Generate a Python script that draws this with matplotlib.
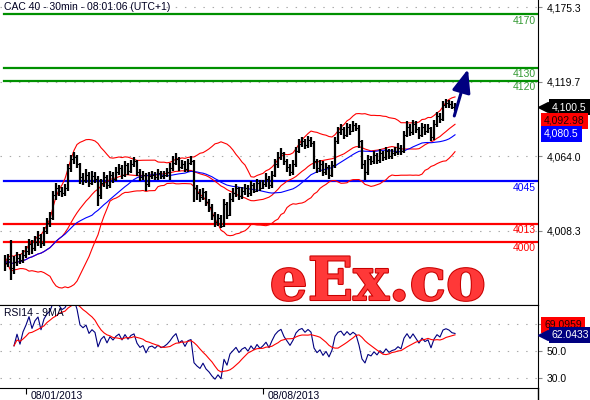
import numpy as np
import pandas as pd
import matplotlib
matplotlib.use('Agg')
import matplotlib.pyplot as plt
from matplotlib import patheffects
from matplotlib.lines import Line2D

plt.rcParams['font.family'] = ['Liberation Sans', 'DejaVu Sans']

# CAC 40, 30 min bars
closes = [3984, 3987, 3980, 3985, 3988, 3986, 3990, 3993, 3998, 3995,
          4000, 4003, 3999, 4008, 4014, 4018, 4035, 4040, 4038, 4036,
          4040, 4055, 4062, 4063, 4058, 4048, 4046, 4050, 4044, 4049,
          4047, 4035, 4044, 4048, 4042, 4050, 4047, 4052, 4055, 4050,
          4057, 4053, 4058, 4060, 4052, 4048, 4050, 4043, 4049, 4050,
          4048, 4051, 4049, 4050, 4052, 4055, 4059, 4062, 4056, 4058,
          4054, 4059, 4060, 4040, 4036, 4033, 4037, 4030, 4026, 4020,
          4015, 4018, 4012, 4028, 4020, 4032, 4036, 4040, 4034, 4038,
          4040, 4036, 4042, 4038, 4044, 4040, 4043, 4047, 4042, 4050,
          4058, 4063, 4066, 4060, 4056, 4052, 4058, 4068, 4073, 4075,
          4072, 4076, 4074, 4060, 4055, 4058, 4052, 4056, 4050, 4057,
          4075, 4082, 4084, 4080, 4086, 4083, 4087, 4085, 4075, 4058,
          4052, 4062, 4060, 4065, 4061, 4066, 4063, 4068, 4064, 4066,
          4067, 4070, 4068, 4080, 4086, 4082, 4088, 4084, 4080, 4086,
          4083, 4085, 4078, 4088, 4094, 4092, 4102, 4104, 4103, 4101,
          4100.5]
highs = [3990, 3991, 4001, 3989, 3992, 3991, 3994, 3997, 4002, 4001,
         4004, 4008, 4006, 4011, 4018, 4022, 4038, 4044, 4042, 4041,
         4043, 4058, 4065, 4067, 4065, 4059, 4051, 4054, 4052, 4053,
         4052, 4049, 4047, 4052, 4050, 4053, 4052, 4056, 4058, 4057,
         4060, 4059, 4061, 4063, 4061, 4054, 4053, 4051, 4052, 4053,
         4052, 4054, 4053, 4053, 4055, 4059, 4064, 4066, 4063, 4061,
         4060, 4062, 4064, 4061, 4042, 4039, 4040, 4038, 4032, 4028,
         4022, 4021, 4020, 4032, 4030, 4036, 4040, 4043, 4041, 4041,
         4043, 4042, 4045, 4044, 4047, 4046, 4046, 4051, 4049, 4053,
         4062, 4067, 4070, 4067, 4062, 4058, 4061, 4071, 4077, 4078,
         4077, 4079, 4078, 4075, 4062, 4061, 4060, 4059, 4057, 4060,
         4078, 4086, 4088, 4086, 4089, 4088, 4090, 4089, 4087, 4076,
         4061, 4065, 4064, 4068, 4066, 4069, 4068, 4071, 4069, 4069,
         4071, 4074, 4072, 4083, 4090, 4088, 4091, 4090, 4086, 4089,
         4088, 4088, 4086, 4091, 4097, 4096, 4105, 4107, 4106, 4105,
         4104]
lows = [3978, 3981, 3971, 3976, 3982, 3983, 3984, 3988, 3990, 3991,
        3993, 3997, 3995, 3997, 4006, 4011, 4016, 4031, 4034, 4033,
        4034, 4038, 4052, 4058, 4055, 4043, 4042, 4044, 4041, 4042,
        4044, 4027, 4032, 4041, 4039, 4040, 4044, 4045, 4050, 4047,
        4048, 4050, 4051, 4056, 4049, 4045, 4046, 4038, 4041, 4047,
        4046, 4046, 4047, 4047, 4048, 4046, 4053, 4057, 4053, 4054,
        4052, 4052, 4057, 4030, 4031, 4030, 4031, 4027, 4022, 4016,
        4011, 4012, 4010, 4011, 4017, 4019, 4030, 4033, 4031, 4032,
        4035, 4033, 4034, 4036, 4037, 4038, 4039, 4041, 4039, 4040,
        4048, 4055, 4061, 4057, 4052, 4049, 4050, 4056, 4066, 4071,
        4069, 4070, 4071, 4054, 4051, 4052, 4049, 4050, 4047, 4048,
        4055, 4073, 4080, 4077, 4078, 4080, 4082, 4083, 4070, 4054,
        4046, 4050, 4057, 4058, 4058, 4059, 4060, 4061, 4062, 4062,
        4064, 4065, 4065, 4066, 4078, 4079, 4080, 4081, 4077, 4078,
        4080, 4081, 4075, 4076, 4086, 4089, 4090, 4100, 4100, 4099,
        4098]

green_levels = [4170, 4130, 4120]
blue_levels = [4045]
red_levels = [4013, 4000]

price_ticks = [4008.3, 4064.0, 4119.7, 4175.3]
rsi_ticks = [30.0, 50.0, 70.0]
rsi_tick_labels = ['30.0', '50.0', '']   # 70 is hidden under the MA tag
date_bars = [7, 86]
date_labels = ['08/01/2013', '08/08/2013']

# last value tags
last_close_txt = '4,100.5'
bb_mid_txt = '4,092.98'
ma_txt = '4,080.5'
rsi_last, rsi_ma_last = 62.0433, 69.0959
target_price = 4130

# indicators
s = pd.Series(closes, dtype=float)
x = np.arange(len(s))
opens = s.shift(1).fillna(s.iloc[0])
bb_mid = s.rolling(20, min_periods=1).mean()
bb_std = s.rolling(20, min_periods=1).std(ddof=0)
bb_up = bb_mid + 2 * bb_std
bb_lo = bb_mid - 2 * bb_std
ma30 = s.rolling(30, min_periods=1).mean()

delta = s.diff()
gain = delta.clip(lower=0).ewm(alpha=1 / 14, adjust=True).mean()
loss = (-delta.clip(upper=0)).ewm(alpha=1 / 14, adjust=True).mean()
rsi = 100 - 100 / (1 + gain / loss)
rsi[:3] = np.nan  # warm-up
rsi_ma = rsi.rolling(9, min_periods=1).mean()

fig = plt.figure(figsize=(5.9, 4.0), dpi=100)
ax = fig.add_axes([0, 95 / 400, 538 / 590, 305 / 400])
ax_r = fig.add_axes([0, 12 / 400, 538 / 590, 83 / 400])

FS = 7.5
dots = (0, (1.3, 7))

# main panel
ax.set_xlim(-5 / 3, 533 / 3)
ax.set_ylim(3952.6, 4180.7)
for sp in ['left', 'top']:
    ax.spines[sp].set_visible(False)
ax.yaxis.tick_right()
ax.set_yticks(price_ticks)
ax.set_yticklabels(['{:,.1f}'.format(v) for v in price_ticks])
ax.tick_params(axis='y', length=3, color='#888888', labelsize=FS, pad=3)
ax.tick_params(axis='x', bottom=False, labelbottom=False)
ax.yaxis.grid(True, linestyle=dots, color='#aaaaaa', lw=0.8)

for lv in green_levels:
    ax.axhline(lv, xmin=4 / 538, color='#009000', lw=1.6)
for lv in blue_levels:
    ax.axhline(lv, xmin=4 / 538, color='#0000ff', lw=1.6)
for lv in red_levels:
    ax.axhline(lv, xmin=4 / 538, color='#ff0000', lw=1.6)
for lv, c in [(v, '#339933') for v in green_levels] + [(v, '#0000ff') for v in blue_levels] + \
        [(v, '#ff0000') for v in red_levels]:
    ax.annotate(str(lv), xy=(1, lv), xycoords=('axes fraction', 'data'), xytext=(-1.5, -4.5),
                textcoords='offset points', ha='right', va='center', fontsize=FS, color=c)

ax.plot(x, bb_up, color='#ff0000', lw=0.8)
ax.plot(x, bb_mid, color='#ff0000', lw=0.8)
ax.plot(x, bb_lo, color='#ff0000', lw=0.8)
ax.plot(x, ma30, color='#0000ff', lw=0.8)

ax.vlines(x, lows, highs, color='black', lw=1.6)
ax.hlines(s, x, x + 0.6, color='black', lw=0.8)

ax.annotate('', xy=(x[-1] + 4.6, target_price + 1), xytext=(x[-1] - 0.5, s.iloc[-1] - 8.5),
            arrowprops=dict(arrowstyle='-|>,head_length=1.0,head_width=0.4', color='#000080',
                            lw=2.2, mutation_scale=14))

ax.text(4 / 538, 1 - 7 / 305, 'CAC 40 - 30min - 08:01:06 (UTC+1)', transform=ax.transAxes,
        ha='left', va='center', fontsize=FS, color='#000022')

ax.text(378 / 538, 5 / 305, 'eEx.co', transform=ax.transAxes, ha='center', va='baseline',
        fontsize=43, fontweight='bold', family='DejaVu Serif', color='#ff3838',
        path_effects=[patheffects.withStroke(linewidth=1.5, foreground='#c80000')])


def tag(a, value, text, fc, tc, dy=0, pointer=False):
    off = 10 if pointer else 4.5
    a.annotate(text, xy=(1, value), xycoords=('axes fraction', 'data'), xytext=(off, dy),
               textcoords='offset points', ha='left', va='center', fontsize=FS, color=tc,
               annotation_clip=False, zorder=5,
               bbox=dict(boxstyle='square,pad=0.3', fc=fc, ec='none'))
    if pointer:
        a.plot([1.0102], [value], marker='<', ms=7.5, color=fc, transform=a.get_yaxis_transform(),
               clip_on=False, zorder=5)


tag(ax, s.iloc[-1], last_close_txt, 'black', 'white', pointer=True)
tag(ax, 4092.98, bb_mid_txt, '#ff0000', '#220000', dy=-2.5)
tag(ax, 4080.5, ma_txt, '#0000ff', 'white')

# RSI panel
ax_r.set_xlim(-5 / 3, 533 / 3)
ax_r.set_ylim(22.6, 84.1)
ax_r.spines['left'].set_visible(False)
ax_r.yaxis.tick_right()
ax_r.set_yticks(rsi_ticks)
ax_r.set_yticklabels(rsi_tick_labels)
ax_r.tick_params(axis='y', length=3, color='#888888', labelsize=FS, pad=3)
ax_r.yaxis.grid(True, linestyle=dots, color='#aaaaaa', lw=0.8)
ax_r.set_xticks(date_bars)
ax_r.set_xticklabels([])
ax_r.tick_params(axis='x', length=4, direction='out', color='black')
for b, lab in zip(date_bars, date_labels):
    ax_r.annotate(lab, xy=(b, 0), xycoords=('data', 'axes fraction'), xytext=(3, -2),
                  textcoords='offset points', ha='left', va='top', fontsize=FS, color='#000022')

ax_r.plot(x, rsi, color='#000080', lw=0.8)
ax_r.plot(x, rsi_ma, color='#ff0000', lw=0.8)
ax_r.text(4 / 538, 1 - 8 / 83, 'RSI14 - 9MA', transform=ax_r.transAxes, ha='left', va='center',
          fontsize=FS, color='#000022')
tag(ax_r, rsi_ma_last, '69.0959', '#ff0000', '#220000')
tag(ax_r, rsi_last, '62.0433', '#000080', 'white', pointer=True)

fig.add_artist(Line2D([538 / 590] * 2, [0, 12 / 400], color='black', lw=1))

fig.savefig('out.png', dpi=100)
